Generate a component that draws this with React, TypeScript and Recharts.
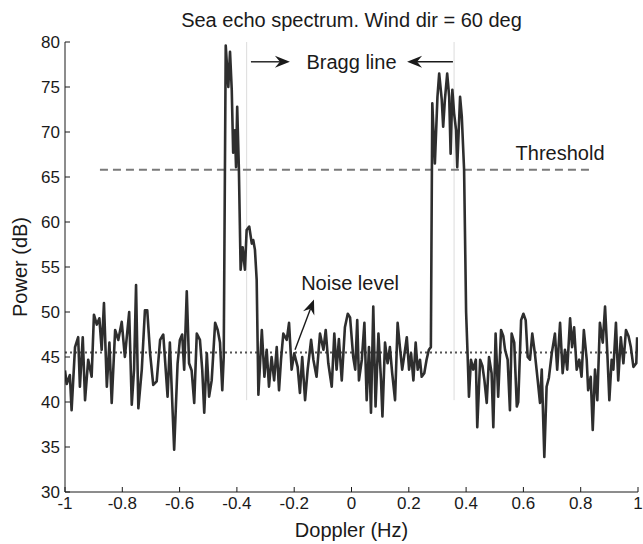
import { LineChart, Line, XAxis, YAxis, ReferenceLine, ReferenceDot } from "recharts";

// Doppler frequency (Hz) of each spectrum sample
const dopplerHz = [
  -1.0, -0.994, -0.983, -0.977, -0.965, -0.954, -0.948, -0.938, -0.93, -0.919, -0.907, -0.899,
  -0.889, -0.88, -0.872, -0.864, -0.854, -0.845, -0.837, -0.825, -0.814, -0.802, -0.791, -0.776,
  -0.767, -0.759, -0.752, -0.744, -0.732, -0.721, -0.713, -0.703, -0.692, -0.68, -0.668, -0.657,
  -0.642, -0.634, -0.619, -0.607, -0.599, -0.591, -0.584, -0.575, -0.567, -0.558, -0.549, -0.54,
  -0.529, -0.521, -0.514, -0.505, -0.497, -0.488, -0.476, -0.467, -0.459, -0.451,
  // negative Bragg peak
  -0.446, -0.439, -0.43, -0.424, -0.418, -0.413, -0.407, -0.403, -0.399, -0.393, -0.387, -0.38,
  -0.372, -0.366, -0.357, -0.348, -0.343, -0.337, -0.331,
  -0.325, -0.313, -0.304, -0.296, -0.288, -0.279, -0.27, -0.261, -0.253, -0.246, -0.238, -0.226,
  -0.218, -0.209, -0.2, -0.188, -0.18, -0.172, -0.162, -0.153, -0.141, -0.133, -0.122, -0.11,
  -0.098, -0.09, -0.081, -0.069, -0.06, -0.052, -0.044, -0.034, -0.023, -0.013, -0.005, 0.006, 0.013,
  0.02, 0.026, 0.036, 0.045, 0.053, 0.061, 0.068, 0.076, 0.084, 0.094, 0.103, 0.108,
  0.117, 0.126, 0.134, 0.142, 0.152, 0.161, 0.169, 0.177, 0.187, 0.193, 0.201, 0.208,
  0.216, 0.224, 0.231, 0.239, 0.245, 0.254, 0.262, 0.27, 0.277,
  // positive Bragg peak
  0.282, 0.291, 0.3, 0.306, 0.315, 0.32, 0.326, 0.334, 0.341, 0.346, 0.352, 0.358,
  0.365, 0.369, 0.379, 0.385, 0.393,
  0.4, 0.405, 0.41, 0.417, 0.425, 0.434, 0.439, 0.449, 0.457, 0.464, 0.472, 0.48,
  0.489, 0.495, 0.503, 0.512, 0.522, 0.53, 0.536, 0.545, 0.553, 0.559, 0.568, 0.577,
  0.582, 0.592, 0.6, 0.608, 0.615, 0.623, 0.631, 0.64, 0.65, 0.658, 0.664, 0.673,
  0.681, 0.689, 0.699,
  0.71, 0.718, 0.728, 0.737, 0.745, 0.753, 0.763, 0.77, 0.777, 0.786, 0.795, 0.803,
  0.811, 0.821, 0.826, 0.835, 0.842, 0.85, 0.858, 0.867, 0.877, 0.885, 0.893, 0.9,
  0.908, 0.914, 0.923, 0.931, 0.94, 0.949, 0.958, 0.967, 0.975, 0.984, 0.994, 0.997,
];

// Received power (dB), one value per Doppler sample above
const powerDb = [
  43.5, 42, 43, 39.1, 46.1, 47.2, 41.7, 47.2, 40.2, 44.7, 42.8, 49.7,
  48.6, 49.3, 45.8, 51, 41.7, 46.6, 39.9, 48, 46.9, 48.9, 45, 50,
  39.7, 43.6, 53, 39.3, 43.6, 50.2, 50.2, 45.4, 41.9, 42.3, 46.9, 47.5,
  40.6, 46.6, 34.7, 44.3, 46.9, 47.5, 43.6, 52.3, 44.3, 43.5, 39.9, 47.6,
  46.9, 43.6, 38.8, 45.4, 40.6, 42.4, 48.8, 48, 46.6, 41.3,
  45, 79.6, 75, 78.9, 74.7, 67.7, 70.2, 66.1, 72.8, 65.8, 54.7, 57.2,
  54.7, 59.1, 59.5, 57.6, 58, 56.9, 53.6,
  40.8, 48, 42.8, 45.8, 41.7, 45, 42.4, 46.1, 41.3, 44.7, 47.6, 46.9,
  48.8, 43.6, 45.4, 43.9, 41, 45, 40.2, 43.6, 46.9, 44.7, 42.8, 47.6,
  45.8, 48, 44.3, 41.7, 47.6, 43.6, 47, 42.4, 48.3, 49.8, 49.4, 45, 43.6,
  49.1, 42.4, 44.7, 48.8, 40.2, 46.1, 38.8, 50.6, 39.5, 47.6, 42.4, 38.4,
  46.6, 44.3, 46.1, 43.2, 40.2, 48.8, 46.1, 43.6, 45.8, 47.2, 43.6, 45.4,
  42.4, 46.6, 43.6, 44.7, 42.8, 43.2, 44.7, 45.8, 46.1,
  73.2, 66.5, 73.9, 76.5, 73.6, 70.6, 73.6, 76.5, 73.9, 67.6, 74.7, 72.1,
  70.2, 66.1, 73.9, 71.7, 65.8,
  50, 45.5, 40.6, 44.7, 43.6, 44.7, 37.2, 44.7, 44, 42.4, 39.9, 45,
  43.2, 37.2, 47.6, 40.6, 48, 47.3, 45.8, 44.7, 39.1, 47.6, 46.6, 39.5,
  40, 49.1, 49.8, 49.1, 45, 44.7, 47.6, 45.4, 42.4, 39.9, 43.6, 33.9,
  41.7, 42.7, 45.4,
  47.6, 43.6, 48.8, 43.2, 45.8, 43.6, 49.3, 46.1, 48.3, 43.6, 44.7, 42.8,
  48, 44.7, 41.3, 42.8, 36.9, 43.6, 40.2, 48.8, 46.6, 50.6, 45.4, 40.2,
  44.7, 43.6, 48.8, 42.4, 47.2, 44.3, 48, 47.3, 46.1, 43.9, 44.3, 47.2,
];

const xTicks = [-1, -0.8, -0.6, -0.4, -0.2, 0, 0.2, 0.4, 0.6, 0.8, 1];
const yTicks = [30, 35, 40, 45, 50, 55, 60, 65, 70, 75, 80];

const THRESHOLD_DB = 65.8;
const NOISE_DB = 45.5;
const BRAGG_HZ = [-0.366, 0.358];

const spectrum = dopplerHz.map((hz, i) => ({ doppler: hz, power: powerDb[i] }));

const FONT = '"Liberation Sans", Arial, Helvetica, sans-serif';
const INK = "#1a1a1a";

function YTick(props: any) {
  const { x, y, payload } = props;
  return (
    <g>
      <line x1={x + 4} y1={y} x2={x + 9} y2={y} stroke={INK} />
      <text x={x - 1} y={y} textAnchor="end" dominantBaseline="central" fontSize={17} fontFamily={FONT} fill={INK}>
        {payload.value}
      </text>
    </g>
  );
}

function XTick(props: any) {
  const { x, y, payload } = props;
  return (
    <g>
      <line x1={x} y1={y} x2={x} y2={y - 5} stroke={INK} />
      <text x={x} y={y + 17} textAnchor="middle" fontSize={17} fontFamily={FONT} fill={INK}>
        {payload.value}
      </text>
    </g>
  );
}

// line with a filled, notched arrowhead at (x2, y2)
function Arrow(props: any) {
  const { x1, y1, x2, y2 } = props;
  const a = Math.atan2(y2 - y1, x2 - x1);
  const ux = Math.cos(a);
  const uy = Math.sin(a);
  const len = 15;
  const half = 6;
  const notch = 10;
  const bx = x2 - ux * len;
  const by = y2 - uy * len;
  const nx = x2 - ux * notch;
  const ny = y2 - uy * notch;
  const pts = [
    [x2, y2],
    [bx - uy * half, by + ux * half],
    [nx, ny],
    [bx + uy * half, by - ux * half],
  ]
    .map((p) => p.join(","))
    .join(" ");
  return (
    <g>
      <line x1={x1} y1={y1} x2={nx} y2={ny} stroke={INK} strokeWidth={1.4} />
      <polygon points={pts} fill={INK} />
    </g>
  );
}

const caption = (text: string, size = 20, rotate = false) => (p: any) => (
  <text
    x={p.cx}
    y={p.cy}
    textAnchor="middle"
    dominantBaseline="central"
    fontSize={size}
    fontFamily={FONT}
    fill={INK}
    transform={rotate ? `rotate(-90 ${p.cx} ${p.cy})` : undefined}
  >
    {text}
  </text>
);

export default function App() {
  return (
    <div>
      <style>{"body{margin:0}"}</style>
      <LineChart width={643} height={544} data={spectrum} margin={{ top: 42, right: 5, bottom: 22, left: 25 }}>
        <XAxis
          dataKey="doppler"
          type="number"
          domain={[-1, 1]}
          ticks={xTicks}
          interval={0}
          height={30}
          tickSize={0}
          tickMargin={0}
          tickLine={false}
          axisLine={{ stroke: INK }}
          tick={<XTick />}
          allowDataOverflow
        />
        <YAxis
          type="number"
          domain={[30, 80]}
          ticks={yTicks}
          interval={0}
          width={40}
          tickSize={0}
          tickMargin={4}
          tickLine={false}
          axisLine={{ stroke: INK }}
          tick={<YTick />}
          allowDataOverflow
        />

        {BRAGG_HZ.map((hz) => (
          <ReferenceLine
            key={hz}
            segment={[{ x: hz, y: 40.2 }, { x: hz, y: 80 }]}
            stroke="#dcdcdc"
            strokeWidth={1}
            ifOverflow="visible"
          />
        ))}
        <ReferenceLine y={NOISE_DB} stroke="#555" strokeWidth={2} strokeDasharray="2 3" />
        <ReferenceLine
          segment={[{ x: -0.878, y: THRESHOLD_DB }, { x: 0.83, y: THRESHOLD_DB }]}
          stroke="#7a7a7a"
          strokeWidth={2}
          strokeDasharray="8 5"
        />

        <Line
          dataKey="power"
          type="linear"
          stroke="#2e2e2e"
          strokeWidth={2.6}
          strokeLinejoin="round"
          dot={false}
          isAnimationActive={false}
        />

        <ReferenceLine segment={[{ x: -0.351, y: 77.8 }, { x: -0.215, y: 77.8 }]} ifOverflow="visible" shape={Arrow} />
        <ReferenceLine segment={[{ x: 0.354, y: 77.8 }, { x: 0.194, y: 77.8 }]} ifOverflow="visible" shape={Arrow} />
        <ReferenceLine segment={[{ x: -0.197, y: 45.8 }, { x: -0.131, y: 51.4 }]} ifOverflow="visible" shape={Arrow} />

        <ReferenceDot x={0} y={82.4} r={0} ifOverflow="visible" shape={caption("Sea echo spectrum. Wind dir = 60 deg")} />
        <ReferenceDot x={0} y={77.8} r={0} ifOverflow="visible" shape={caption("Bragg line")} />
        <ReferenceDot x={0.728} y={67.7} r={0} ifOverflow="visible" shape={caption("Threshold")} />
        <ReferenceDot x={-0.005} y={53.2} r={0} ifOverflow="visible" shape={caption("Noise level")} />
        <ReferenceDot x={0} y={25.8} r={0} ifOverflow="visible" shape={caption("Doppler (Hz)")} />
        <ReferenceDot x={-1.157} y={55} r={0} ifOverflow="visible" shape={caption("Power (dB)", 20, true)} />
      </LineChart>
    </div>
  );
}
